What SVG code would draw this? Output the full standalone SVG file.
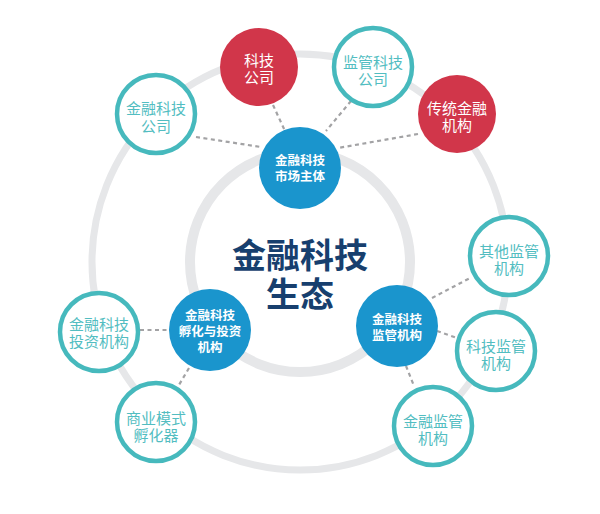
<svg xmlns="http://www.w3.org/2000/svg" width="600" height="514" viewBox="0 0 600 514">
<style>
.ring{fill:none;stroke:#e6e7e9}
.con line{stroke:#a3a3a5;stroke-width:2.2;stroke-dasharray:4 3.5}
.teal circle{fill:#fff;stroke:#46b9bd;stroke-width:4.5}
.red circle{fill:#d1364a}
.blue circle{fill:#1a95cd}
text{font-family:"Liberation Sans","Noto Sans CJK SC",sans-serif;text-anchor:middle}
.teal text{fill:#52bdc1;font-size:15px}
.red text{fill:#fff;font-size:15px}
.blue text{fill:#fff;font-size:12.5px;font-weight:bold}
.title{fill:#173f6e;font-size:34px;font-weight:bold}
</style>
<rect width="600" height="514" fill="#fff"/>
<circle class="ring" cx="300" cy="262" r="208" stroke-width="7"/>
<circle class="ring" cx="300" cy="262" r="110" stroke-width="10"/>
<g id="connectors" class="con">
<line x1="196" y1="137" x2="261" y2="147"/>
<line x1="273" y1="105" x2="285" y2="131"/>
<line x1="351" y1="101" x2="326" y2="131"/>
<line x1="418" y1="134" x2="338" y2="148"/>
<line x1="140" y1="330" x2="169" y2="330"/>
<line x1="189" y1="368" x2="176" y2="390"/>
<line x1="432" y1="298" x2="470" y2="278"/>
<line x1="437" y1="331" x2="457" y2="338"/>
<line x1="406" y1="366" x2="414" y2="386"/>
</g>
<g id="title"><text class="title" x="300" y="268">金融科技</text><text class="title" x="300" y="307">生态</text></g>
<g id="market" class="blue"><circle cx="300" cy="168" r="41"/><text x="300" y="165">金融科技</text><text x="300" y="181">市场主体</text></g>
<g id="incubation" class="blue"><circle cx="210" cy="330" r="41"/><text x="210" y="320">金融科技</text><text x="210" y="336">孵化与投资</text><text x="210" y="352">机构</text></g>
<g id="regulator" class="blue"><circle cx="397" cy="326" r="41"/><text x="397" y="324">金融科技</text><text x="397" y="340">监管机构</text></g>
<g id="fintech-co" class="teal"><circle cx="156" cy="114" r="39"/><text x="156" y="114">金融科技</text><text x="156" y="132">公司</text></g>
<g id="tech-co" class="red"><circle cx="259" cy="67" r="39"/><text x="259" y="66">科技</text><text x="259" y="83">公司</text></g>
<g id="regtech-co" class="teal"><circle cx="373" cy="67" r="39"/><text x="373" y="68">监管科技</text><text x="373" y="85">公司</text></g>
<g id="traditional" class="red"><circle cx="457" cy="114" r="39"/><text x="457" y="114">传统金融</text><text x="457" y="131">机构</text></g>
<g id="invest" class="teal"><circle cx="99" cy="332" r="39"/><text x="99" y="330">金融科技</text><text x="99" y="347">投资机构</text></g>
<g id="bizmodel" class="teal"><circle cx="156" cy="422" r="39"/><text x="156" y="424">商业模式</text><text x="156" y="441">孵化器</text></g>
<g id="other-reg" class="teal"><circle cx="509" cy="256" r="39"/><text x="509" y="257">其他监管</text><text x="509" y="274">机构</text></g>
<g id="tech-reg" class="teal"><circle cx="496" cy="351" r="39"/><text x="496" y="352">科技监管</text><text x="496" y="369">机构</text></g>
<g id="fin-reg" class="teal"><circle cx="433" cy="426" r="39"/><text x="433" y="427">金融监管</text><text x="433" y="444">机构</text></g>
</svg>
